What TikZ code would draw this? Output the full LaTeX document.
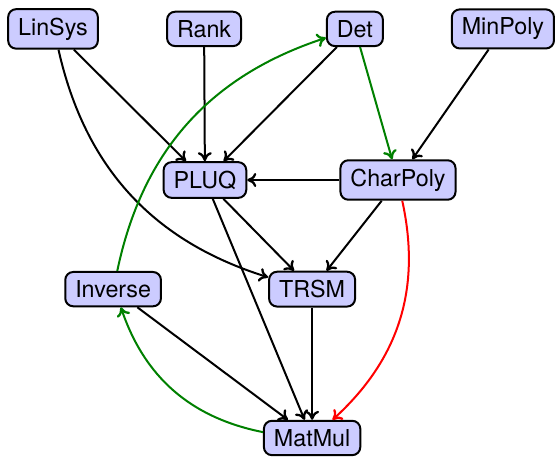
\documentclass[tikz,border=0pt]{standalone}
\usepackage{fontspec}
\setsansfont{TeX Gyre Heros}
\usetikzlibrary{arrows.meta, positioning}
\pgfkeys{/tikz/.cd,
    overall style/.style={
        line width=2bp,
        >={Computer Modern Rightarrow[length=9bp, width=14bp, line width=2.3bp]},
        font=\sffamily\fontsize{23.3bp}{28bp}\selectfont
    },
    algo/.style={
        draw, line width=2bp, rounded corners=8bp, fill=blue!20,
        inner xsep=10bp, inner ysep=8.5bp
    },
    dep/.style={->, black}
}

\begin{document}
\begin{tikzpicture}[overall style]

    \useasboundingbox (0, 0) rectangle (19.614, -16.122);

    % --- 1. top row ---
    \node[algo] (LinSys)  at (1.87, -1.02)  {LinSys};
    \node[algo] (Rank)    at (7.20, -1.02)  {Rank};
    \node[algo] (Det)     at (12.52, -1.02) {Det};
    \node[algo] (MinPoly) at (17.74, -1.02) {MinPoly};

    % --- 2. middle rows ---
    \node[algo] (PLUQ)     at (7.23, -6.35)  {PLUQ};
    \node[algo] (CharPoly) at (14.04, -6.35) {CharPoly};
    \node[algo] (Inverse)  at (3.99, -10.20) {Inverse};
    \node[algo] (TRSM)     at (11.01, -10.20) {TRSM};

    % --- 3. bottom ---
    \node[algo] (MatMul) at (11.01, -15.45) {MatMul};

    % --- 4. dependencies ---
    \draw[dep] (LinSys) -- (PLUQ);
    \draw[dep] (LinSys) to[bend right=30] (TRSM);
    \draw[dep] (Rank) -- (PLUQ);
    \draw[dep] (Det) -- (PLUQ);
    \draw[dep, green!50!black] (Det) -- (CharPoly);
    \draw[dep] (MinPoly) -- (CharPoly);
    \draw[dep] (CharPoly) -- (PLUQ);
    \draw[dep] (CharPoly) -- (TRSM);
    \draw[dep, red] (CharPoly) to[bend left=30] (MatMul);
    \draw[dep] (PLUQ) -- (TRSM);
    \draw[dep] (PLUQ) -- (MatMul);
    \draw[dep] (TRSM) -- (MatMul);
    \draw[dep] (Inverse) -- (MatMul);
    \draw[dep, green!50!black] (Inverse) to[bend left=30] (Det);
    \draw[dep, green!50!black] (MatMul) to[bend left=30] (Inverse);

\end{tikzpicture}
\end{document}
